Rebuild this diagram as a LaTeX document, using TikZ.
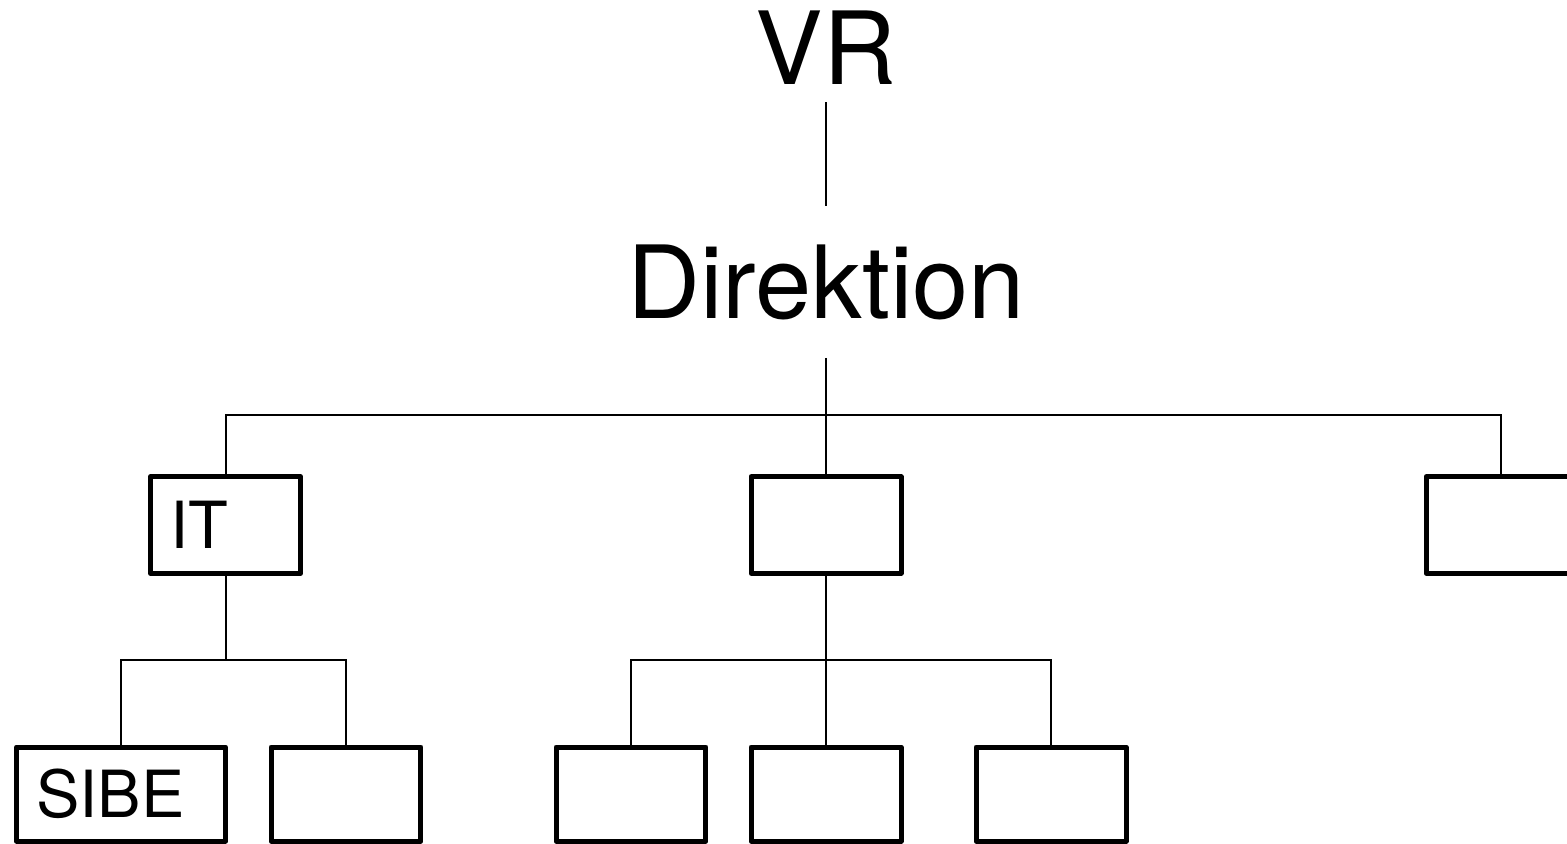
\documentclass[tikz,border=0pt]{standalone}
\usepackage{fontspec}
\setmainfont{TeX Gyre Heros}
\usepackage{tikz}
\usetikzlibrary{positioning}

\tikzset{
  unit/.style={draw, line width=0.1cm, line join=round, inner xsep=0.4cm,
    inner ysep=0, outer sep=0, minimum width=3cm, minimum height=1.93cm,
    align=left, font=\fontsize{37}{40}\selectfont},
  lowunit/.style={unit, minimum height=1.88cm},
  head/.style={font=\fontsize{57.5}{60}\selectfont, inner xsep=0, anchor=base},
  link/.style={line width=0.04cm}
}

\begin{document}
\begin{tikzpicture}[x=0.02cm, y=-0.02cm]
  \useasboundingbox (0,0) rectangle (1567,844);

  %---------------- top ----------------
  \node[head, inner ysep=0.34cm] (vr) at (826,85) {VR};
  \node[head, inner ysep=0.76cm] (direktion) at (826,318) {Direktion};
  \draw[link] (vr.south) -- (direktion.north);

  %---------------- first level ----------------
  \node[unit, text width=2.2cm] (it) at (225.5,525) {IT};
  \node[unit] (mid) at (826,525) {};
  \node[unit] (right) at (1501,525) {};

  \coordinate (bar1) at (826,415);
  \draw[link] (it.north) |- (bar1) -| (right.north);
  \draw[link] (direktion.south) -- (mid.north);

  %---------------- second level ----------------
  \node[lowunit, text width=3.38cm] (sibe) at (121,794) {SIBE};
  \node[lowunit] (itb) at (346,794) {};
  \node[lowunit] (mida) at (631,794) {};
  \node[lowunit] (midb) at (826,794) {};
  \node[lowunit] (midc) at (1051,794) {};

  \coordinate (bar2) at (225.5,660);
  \draw[link] (it.south) -- (bar2);
  \draw[link] (sibe.north) |- (bar2) -| (itb.north);

  \coordinate (bar3) at (826,660);
  \draw[link] (mida.north) |- (bar3) -| (midc.north);
  \draw[link] (mid.south) -- (midb.north);
\end{tikzpicture}
\end{document}
